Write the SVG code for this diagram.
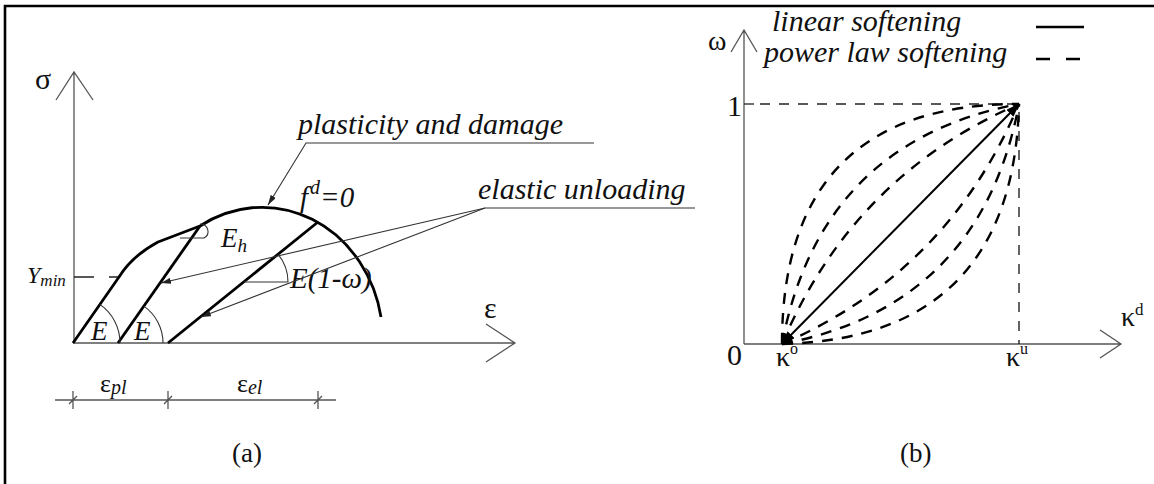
<svg xmlns="http://www.w3.org/2000/svg" width="1154" height="484" viewBox="0 0 1154 484">
<defs>
<style>
.t{font-family:"Liberation Serif","DejaVu Serif",serif;fill:#111}
.i{font-style:italic}
.ax{fill:none;stroke:#555;stroke-width:1.3}
.thick{fill:none;stroke:#000;stroke-width:2.8;stroke-linejoin:round}
.thin{fill:none;stroke:#333;stroke-width:1.1}
.dash{fill:none;stroke:#000;stroke-width:2.4;stroke-dasharray:11 9}
.dashthin{fill:none;stroke:#222;stroke-width:1.4;stroke-dasharray:10 9}
</style>
<marker id="big" viewBox="0 0 14 10" refX="13" refY="5" markerWidth="14" markerHeight="10" markerUnits="userSpaceOnUse" orient="auto-start-reverse"><path d="M0,0 L14,5 L0,10 z" fill="#000"/></marker>
<marker id="sm" viewBox="0 0 10 6" refX="10" refY="3" markerWidth="10" markerHeight="6" markerUnits="userSpaceOnUse" orient="auto"><path d="M0,0 L10,3 L0,6 z" fill="#222"/></marker>
</defs>
<rect width="1154" height="484" fill="#fff"/>
<g id="frame"><path d="M5,484 V6 H1154" fill="none" stroke="#000" stroke-width="2.6"/></g>

<g id="panel-a">
<g id="axis-sigma"><path class="ax" d="M74,343 V72 M56,100 L74,72 L93,100"/><text class="t" x="35" y="89" font-size="30">σ</text></g>
<g id="axis-eps"><path class="ax" d="M73,343 H515 M486,324 L515,343 L486,362"/><text class="t" x="484" y="318" font-size="30">ε</text></g>
<g id="ymin"><path d="M74,277 H120" fill="none" stroke-dasharray="20 15" stroke="#222" stroke-width="1.5"/><text class="t i" x="27" y="283" font-size="24">Y<tspan font-size="17" dy="3">min</tspan></text></g>
<g id="curve"><path class="thick" d="M73,343 L119,277 Q132,256 158,242 L200,226 A121,133 0 0 1 381,317"/></g>
<g id="line2"><path class="thick" d="M118,343 L200,226"/></g>
<g id="line3"><path class="thick" d="M168,343 L318,222"/></g>
<g id="angle-E1"><path class="thin" d="M120,343 A47,47 0 0 0 99.9,304.4"/><text class="t i" x="91" y="340" font-size="27">E</text></g>
<g id="angle-E2"><path class="thin" d="M163,343 A45,45 0 0 0 143.8,306.1"/><text class="t i" x="134" y="340" font-size="27">E</text></g>
<g id="angle-Eh"><path class="thin" d="M180,238 H204 A8,7.5 0 0 0 200,224"/><text class="t i" x="221" y="247" font-size="27">E<tspan font-size="19" dy="5">h</tspan></text></g>
<g id="angle-Ew"><path class="thin" d="M244,282 H288 A44,44 0 0 0 278.2,254.4"/><text class="t i" x="290" y="288" font-size="29">E(1-ω)</text></g>
<g id="label-fd"><text class="t i" x="300" y="207" font-size="29">f<tspan font-size="20" dy="-13" dx="2">d</tspan><tspan dy="13">=0</tspan></text></g>
<g id="label-plast"><text class="t i" x="298" y="134" font-size="30">plasticity and damage</text></g>
<g id="label-elastic"><text class="t i" x="478" y="199" font-size="30">elastic unloading</text></g>
<g id="dimension"><path class="ax" d="M55,400 H336 M73,391 V409 M69,404 L77,396 M168,391 V409 M164,404 L172,396 M318,391 V409 M314,404 L322,396" stroke="#333"/>
<text class="t" x="100" y="392" font-size="26">ε<tspan class="i" font-size="20" dy="2">pl</tspan></text>
<text class="t" x="237" y="392" font-size="26">ε<tspan class="i" font-size="20" dy="2">el</tspan></text></g>
<text class="t" x="232" y="462" font-size="27">(a)</text>
</g>

<g id="connectors">
<path class="thin" d="M594,143 H306 L268,205" marker-end="url(#sm)"/>
<path class="thin" d="M695,208 H485 L161,283" marker-end="url(#sm)"/>
<path class="thin" d="M485,208 L201,317" marker-end="url(#sm)"/>
</g>

<g id="panel-b">
<g id="axis-omega"><path class="ax" d="M744,344 V30 M731,52 L744,30 L757,52"/><text class="t" x="708" y="50" font-size="28">ω</text></g>
<g id="axis-kd"><path class="ax" d="M744,344 H1121 M1100,330 L1121,344 L1100,358"/><text class="t" x="1121" y="326" font-size="28">κ<tspan font-size="17" dy="-11">d</tspan></text></g>
<g id="legend">
<text class="t i" x="772" y="31" font-size="30">linear softening</text>
<path d="M1036,27 H1084" stroke="#000" stroke-width="2.4"/>
<text class="t i" x="764" y="62" font-size="30">power law softening</text>
<path d="M1036,59 H1084" stroke="#000" stroke-width="2.4" stroke-dasharray="14 16"/>
</g>
<g id="tick-1"><path d="M744,104 H754" stroke="#333" stroke-width="1.4"/><path class="dashthin" d="M760,104 H1012"/><text class="t" x="727" y="116" font-size="30">1</text></g>
<path class="dashthin" d="M1019,112 V344"/>
<text class="t" x="727" y="365" font-size="30">0</text>
<text class="t" x="776" y="366" font-size="28">κ<tspan font-size="16" dy="-12">o</tspan></text>
<text class="t" x="1006" y="366" font-size="28">κ<tspan font-size="16" dy="-12">u</tspan></text>
<g id="curves">
<path class="dash" d="M782,344 Q782,104 1019,104"/>
<path class="dash" d="M782,344 Q820,142 1019,104"/>
<path class="dash" d="M782,344 Q853,176 1019,104"/>
<path class="dash" d="M782,344 Q948,272 1019,104"/>
<path class="dash" d="M782,344 Q981,306 1019,104"/>
<path class="dash" d="M782,344 Q1013,338 1019,104"/>
</g>
<path d="M782,344 L1019,104" stroke="#000" stroke-width="2" marker-start="url(#big)" marker-end="url(#big)"/>
<text class="t" x="900" y="462" font-size="27">(b)</text>
</g>
</svg>
